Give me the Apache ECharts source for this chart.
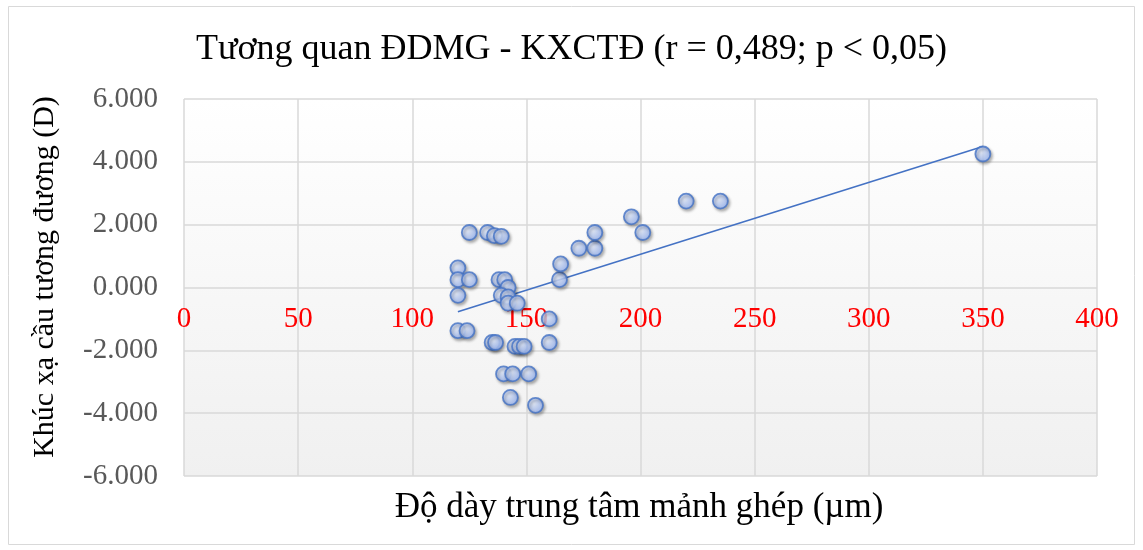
<!DOCTYPE html>
<html><head><meta charset="utf-8">
<script src="https://cdn.jsdelivr.net/npm/echarts@6/dist/echarts.min.js"></script>
<style>html,body{margin:0;padding:0;background:#fff}#c{width:1143px;height:550px}</style>
</head><body><div id="c"></div>
<script>
const thicknessUm = [125,133,136,139,120,120,125,120,138,140.5,142,139,142,142,146,160,120,124,135,136.5,145,147,149,160,140,144,151,143,154,164.5,165,173,180,180,196,201,220,235,350];
const refractionD = [1.75,1.75,1.65,1.63,0.625,0.25,0.25,-0.25,0.25,0.25,0,-0.25,-0.3,-0.5,-0.5,-1.0,-1.375,-1.375,-1.75,-1.75,-1.875,-1.875,-1.875,-1.75,-2.75,-2.75,-2.75,-3.5,-3.75,0.25,0.75,1.25,1.25,1.75,2.25,1.75,2.75,2.75,4.25];
// linear trendline endpoints
const trendX = [120, 350];
const trendY = [-0.77, 4.49];
const titleText = 'Tương quan ĐDMG - KXCTĐ (r = 0,489; p < 0,05)';
const xTitle = 'Độ dày trung tâm mảnh ghép (µm)';
const yTitle = 'Khúc xạ cầu tương đương (D)';

const pts = thicknessUm.map((x,i)=>[x, refractionD[i]]);
const trend = trendX.map((x,i)=>[x, trendY[i]]);

const chart = echarts.init(document.getElementById('c'));
const serif = '"Liberation Serif","Times New Roman",serif';
const X_MIN = 0, X_MAX = 400, Y_MIN = -6, Y_MAX = 6;
// upper grid ends exactly at y = 0 of the main grid so the x labels sit on the zero line
const gTop = 99, gBottom = 74, gH = 550 - gTop - gBottom;
const zeroBottom = 550 - (gTop + gH * (Y_MAX - 0) / (Y_MAX - Y_MIN));
chart.setOption({
  animation:false,
  backgroundColor:'#fff',
  graphic:[{type:'rect',shape:{x:8.5,y:6.5,width:1126,height:538},style:{fill:'none',stroke:'#d9d9d9',lineWidth:1},z:-10},
    {type:'rect',shape:{x:184,y:99,width:913,height:377},style:{fill:new echarts.graphic.LinearGradient(0,0,0,1,[{offset:0,color:'#ffffff'},{offset:1,color:'#f0f0f0'}])},z:-5},
    {type:'text',x:639,y:508,style:{text:xTitle,font:'35px '+serif,fill:'#000',textAlign:'center',textVerticalAlign:'middle'}},
    {type:'text',x:45,y:277,rotation:Math.PI/2,style:{text:yTitle,font:'30px '+serif,fill:'#000',textAlign:'center',textVerticalAlign:'middle'}}],
  title:{text:titleText,left:'center',top:27,textStyle:{fontFamily:serif,fontSize:36,fontWeight:'normal',color:'#000'}},
  grid:[{left:184,right:46,top:gTop,bottom:gBottom,containLabel:false,outerBoundsMode:'none'},
        {left:184,right:46,top:gTop,bottom:zeroBottom,containLabel:false,outerBoundsMode:'none'}],
  xAxis:[{type:'value',gridIndex:0,min:X_MIN,max:X_MAX,interval:50,
    axisLine:{show:false},axisTick:{show:false},axisLabel:{show:false},
    splitLine:{show:true,lineStyle:{color:'#d9d9d9',width:1.5}}},
    {type:'value',gridIndex:1,min:X_MIN,max:X_MAX,interval:50,position:'bottom',
    axisLine:{show:false},axisTick:{show:false},splitLine:{show:false},
    axisLabel:{color:'#ff0000',fontFamily:serif,fontSize:29,margin:17}}],
  yAxis:[{type:'value',gridIndex:0,min:Y_MIN,max:Y_MAX,interval:2,
    axisLine:{show:false},axisTick:{show:false},
    axisLabel:{color:'#595959',fontFamily:serif,fontSize:29,margin:26,
      formatter:v=>(v<0?'-':'')+Math.abs(v).toFixed(3)},
    splitLine:{show:true,lineStyle:{color:'#d9d9d9',width:1.5}}},
    {type:'value',gridIndex:1,min:0,max:Y_MAX,show:false}],
  series:[
    {type:'line',data:trend,symbol:'none',lineStyle:{color:'#4472c4',width:1.6},z:3,silent:true},
    {type:'scatter',data:pts,symbol:'circle',symbolSize:15,z:4,
      itemStyle:{color:new echarts.graphic.RadialGradient(0.4,0.4,0.7,[{offset:0,color:'#e4edff'},{offset:1,color:'#8eaef5'}]),
        borderColor:'#4472c4',borderWidth:1.8,shadowColor:'rgba(0,0,0,0.35)',shadowBlur:3,shadowOffsetX:1.5,shadowOffsetY:2}}
  ]
});
</script></body></html>
